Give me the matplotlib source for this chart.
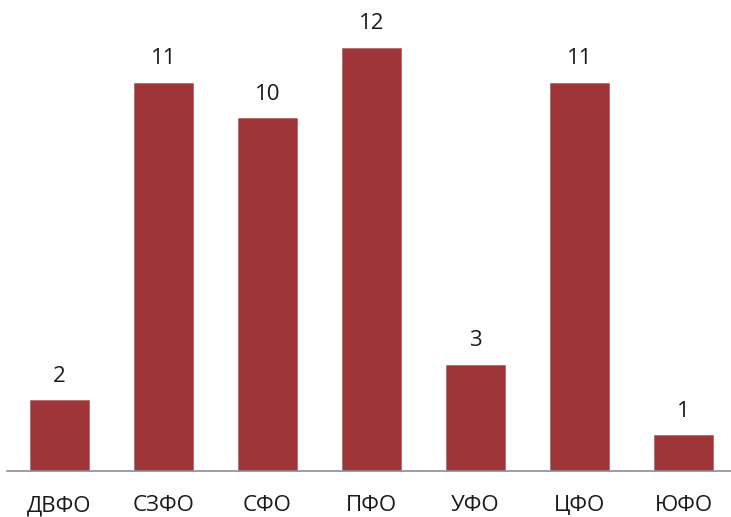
import matplotlib
matplotlib.use("Agg")
import matplotlib.pyplot as plt

categories = ["ДВФО", "СЗФО", "СФО", "ПФО", "УФО", "ЦФО", "ЮФО"]
values = [2, 11, 10, 12, 3, 11, 1]

W, H = 731, 517
fig = plt.figure(figsize=(W / 100, H / 100), dpi=100)
left = 7 / W
bottom = (H - 470.5) / H
ax = fig.add_axes([left, bottom, 1 - left, 1 - bottom])

x = list(range(len(categories)))
ax.bar(x, values, width=0.565, color="#9E3539", edgecolor="#B06066", linewidth=0.5, zorder=2)
for xi, v in zip(x, values):
    ax.annotate(str(v), (xi, v), xytext=(0, 13.2), textcoords="offset points",
                ha="center", va="baseline", fontsize=16,
                family="Open Sans", color="#1a1a1a")

x0 = -(59.5 - 7) / 104
ax.set_xlim(x0, x0 + 724 / 104)
ax.set_ylim(0, 470.5 / 35.25)
for s in ["top", "right", "left"]:
    ax.spines[s].set_visible(False)
ax.spines["bottom"].set_color("#8C8C8C")
ax.spines["bottom"].set_linewidth(1.2)
ax.set_yticks([])
ax.set_xticks(x)
ax.set_xticklabels(categories, fontsize=16, family="Open Sans", color="#1a1a1a")
for lab in ax.get_xticklabels():
    lab.set_va("baseline")
ax.tick_params(axis="x", length=0, pad=29.5)

fig.savefig("out.png", dpi=100)
